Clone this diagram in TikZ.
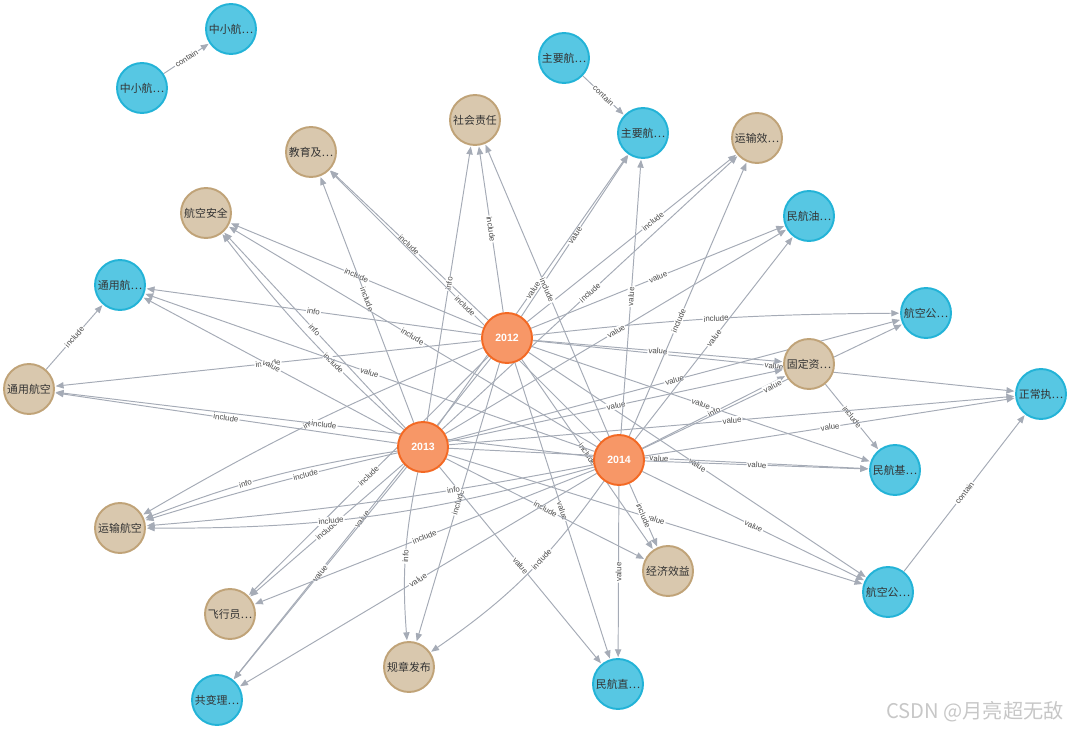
\documentclass[tikz,border=0pt]{standalone}
\usepackage{fontspec}
\setmainfont{Liberation Sans}
\newfontfamily\cjk{Noto Sans CJK SC}
\usepackage{tikz}
\usetikzlibrary{arrows.meta, backgrounds}
\definecolor{n-blue}{HTML}{57C7E3}
\definecolor{n-blue-d}{HTML}{23B3D7}
\definecolor{n-tan}{HTML}{D9C8AE}
\definecolor{n-tan-d}{HTML}{C0A378}
\definecolor{n-orange}{HTML}{F79767}
\definecolor{n-orange-d}{HTML}{F36924}
\definecolor{e-grey}{HTML}{A5ABB6}
\definecolor{l-grey}{HTML}{4A4A4A}
\newcommand{\rel}[4][]{%  \rel[opts]{from}{to}{label}
  \draw[rel, #1] (#2) to node[lbl] {#4} (#3);}

\begin{document}
\begin{tikzpicture}[x=0.02cm, y=-0.02cm,
    ent/.style={circle, minimum size=1cm, inner sep=0pt, line width=1.1pt,
                text=black!80, font=\cjk\fontsize{6.2}{7}\selectfont},
    org/.style={ent, fill=n-blue, draw=n-blue-d},
    topic/.style={ent, fill=n-tan, draw=n-tan-d},
    year/.style={ent, fill=n-orange, draw=n-orange-d, text=white,
                 font=\fontsize{6}{7}\selectfont\bfseries},
    rel/.style={e-grey, line width=0.55pt,
                -{Triangle[length=4.5pt, width=3.6pt]}, shorten >=0.5pt},
    lbl/.style={sloped, fill=white, inner sep=0.6pt, text=l-grey,
                font=\fontsize{4.5}{5}\selectfont}]
  \useasboundingbox (0,0) rectangle (1070,729);

  % ── year hubs ──
  \node[year] (y2012) at (507,338) {2012};
  \node[year] (y2013) at (423,447) {2013};
  \node[year] (y2014) at (619,460) {2014};

  % ── topics (tan) ──
  \node[topic] (shzr) at (475,120) {社会责任};
  \node[topic] (jy)   at (311,152) {教育及…};
  \node[topic] (ysxl) at (757,138) {运输效…};
  \node[topic] (hkaq) at (206,213) {航空安全};
  \node[topic] (tyhk) at (29,389)  {通用航空};
  \node[topic] (gdzc) at (809,364) {固定资…};
  \node[topic] (yshk) at (120,528) {运输航空};
  \node[topic] (jjxy) at (668,571) {经济效益};
  \node[topic] (fxy)  at (230,614) {飞行员…};
  \node[topic] (gzfb) at (409,667) {规章发布};

  % ── organisations (blue) ──
  \node[org] (zx1)   at (142,88)   {中小航…};
  \node[org] (zx2)   at (231,29)   {中小航…};
  \node[org] (zy1)   at (564,58)   {主要航…};
  \node[org] (zy2)   at (643,133)  {主要航…};
  \node[org] (mhy)   at (809,216)  {民航油…};
  \node[org] (tyh)   at (120,285)  {通用航…};
  \node[org] (hkgsU) at (926,313)  {航空公…};
  \node[org] (zczx)  at (1041,394) {正常执…};
  \node[org] (mhj)   at (895,470)  {民航基…};
  \node[org] (hkgsL) at (888,592)  {航空公…};
  \node[org] (mhz)   at (618,684)  {民航直…};
  \node[org] (gbl)   at (217,700)  {共变理…};

  \node[font=\cjk\fontsize{11.5}{13}\selectfont, text=black!22] (mark)
        at (975,712) {CSDN @月亮超无敌};

  \begin{scope}[on background layer]
    % ── loose links ──
    \rel{zx1}{zx2}{contain} \rel{zy1}{zy2}{contain}
    \rel{hkgsL}{zczx}{contain} \rel{tyhk}{tyh}{include}
    \rel{gdzc}{mhj}{include}

    % ── 2012 ──
    \rel{y2012}{shzr}{include} \rel{y2012}{jy}{include}
    \rel{y2012}{hkaq}{include} \rel{y2012}{tyh}{info}
    \rel{y2012}{tyhk}{include} \rel[bend right=4]{y2012}{yshk}{info}
    \rel{y2012}{fxy}{include} \rel{y2012}{gzfb}{include}
    \rel{y2012}{mhz}{value} \rel{y2012}{jjxy}{include}
    \rel{y2012}{hkgsL}{value} \rel{y2012}{mhj}{value}
    \rel{y2012}{zczx}{value} \rel{y2012}{gdzc}{value}
    \rel[bend left=3]{y2012}{hkgsU}{include} \rel{y2012}{mhy}{value}
    \rel[pos=0.6]{y2012}{ysxl}{include} \rel{y2012}{zy2}{value}
    \rel{y2012}{gbl}{value}

    % ── 2013 ──
    \rel{y2013}{shzr}{info} \rel{y2013}{jy}{include}
    \rel{y2013}{hkaq}{info} \rel[bend left=5, pos=0.35]{y2013}{hkaq}{include}
    \rel{y2013}{tyh}{value} \rel{y2013}{tyhk}{include}
    \rel[bend right=6, pos=0.6]{y2013}{yshk}{info}
    \rel[bend right=2, pos=0.35]{y2013}{yshk}{include}
    \rel{y2013}{fxy}{include} \rel[bend right=8]{y2013}{gzfb}{info}
    \rel{y2013}{mhz}{value} \rel{y2013}{jjxy}{include}
    \rel{y2013}{hkgsL}{value} \rel{y2013}{mhj}{value}
    \rel{y2013}{zczx}{value} \rel{y2013}{gdzc}{value}
    \rel{y2013}{hkgsU}{value} \rel{y2013}{mhy}{value}
    \rel{y2013}{ysxl}{include} \rel{y2013}{zy2}{value}
    \rel{y2013}{gbl}{value}

    % ── 2014 ──
    \rel{y2014}{shzr}{include} \rel{y2014}{jy}{include}
    \rel{y2014}{hkaq}{include} \rel{y2014}{tyh}{value}
    \rel{y2014}{tyhk}{include} \rel[bend left=8, pos=0.6]{y2014}{yshk}{include}
    \rel[bend left=3, pos=0.3]{y2014}{yshk}{info}
    \rel{y2014}{fxy}{include} \rel[bend left=10, pos=0.4]{y2014}{gzfb}{include}
    \rel{y2014}{mhz}{value} \rel{y2014}{jjxy}{include}
    \rel{y2014}{hkgsL}{value} \rel{y2014}{mhj}{value}
    \rel{y2014}{zczx}{value} \rel{y2014}{gdzc}{info}
    \rel{y2014}{hkgsU}{value} \rel{y2014}{mhy}{value}
    \rel[pos=0.42]{y2014}{ysxl}{include} \rel{y2014}{zy2}{value}
    \rel{y2014}{gbl}{value}
  \end{scope}
\end{tikzpicture}
\end{document}
